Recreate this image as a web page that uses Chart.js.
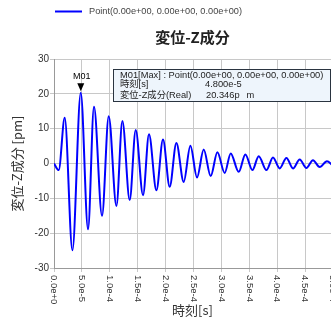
<!DOCTYPE html>
<html><head><meta charset="utf-8">
<script src="https://cdn.jsdelivr.net/npm/chart.js@4/dist/chart.umd.min.js"></script>
<style>html,body{margin:0;padding:0;background:#fff;overflow:hidden}#wrap{position:relative;width:331px;height:326px}</style>
</head><body><div id="wrap"><canvas id="c" width="331" height="326"></canvas></div>
<script>
const seriesName = "Point(0.00e+00, 0.00e+00, 0.00e+00)";
const times = [0, 8.4e-6, 1.92e-5, 3.30e-5, 4.80e-5, 6.10e-5, 7.17e-5, 8.61e-5, 9.81e-5, 1.119e-4,
  1.226e-4, 1.357e-4, 1.465e-4, 1.596e-4, 1.703e-4, 1.836e-4, 1.954e-4, 2.074e-4, 2.194e-4, 2.325e-4,
  2.445e-4, 2.564e-4, 2.684e-4, 2.809e-4, 2.929e-4, 3.060e-4, 3.168e-4, 3.311e-4, 3.431e-4, 3.557e-4,
  3.670e-4, 3.808e-4, 3.926e-4, 4.046e-4, 4.167e-4, 4.285e-4, 4.405e-4, 4.525e-4, 4.643e-4, 4.763e-4,
  4.894e-4, 5.020e-4];
const values = [0, -1.9, 13.1, -24.9, 20.346, -18.9, 16.3, -15.0, 13.6, -12.2,
  12.2, -10.5, 9.6, -9.1, 8.4, -7.7, 6.9, -6.7, 5.9, -5.3,
  5.1, -4.0, 4.0, -3.6, 3.2, -2.7, 2.9, -2.4, 2.6, -1.9,
  2.1, -1.9, 1.7, -1.4, 1.6, -1.4, 1.15, -1.3, 0.95, -1.0,
  0.65, -0.9];
const xTicks = [0, 5e-5, 1e-4, 1.5e-4, 2e-4, 2.5e-4, 3e-4, 3.5e-4, 4e-4, 4.5e-4, 5e-4];
const yTicks = [-30, -20, -10, 0, 10, 20, 30];
const markerLabel = "M01";
const markerTime = 4.8e-5;
const markerValue = 20.346;

const LAT = '"Liberation Sans", Arial, "Noto Sans CJK JP", sans-serif';
const CJK = '"Noto Sans CJK JP", "Liberation Sans", sans-serif';

const overlay = {
  id: 'overlay',
  afterDatasetsDraw(chart) {
    const ctx = chart.ctx, xs = chart.scales.x, ys = chart.scales.y, ca = chart.chartArea;
    // legend
    ctx.save();
    ctx.strokeStyle = '#0000ff'; ctx.lineWidth = 2;
    ctx.beginPath(); ctx.moveTo(55, 11.5); ctx.lineTo(82, 11.5); ctx.stroke();
    ctx.fillStyle = '#444'; ctx.font = '9.2px ' + LAT; ctx.textBaseline = 'middle'; ctx.textAlign = 'left';
    ctx.fillText(seriesName, 89, 11.5);
    // x tick labels rotated clockwise
    ctx.fillStyle = '#333'; ctx.font = '9.5px ' + LAT;
    xTicks.forEach(v => {
      const px = xs.getPixelForValue(v);
      ctx.save(); ctx.translate(px, xs.top + 7); ctx.rotate(Math.PI / 2);
      ctx.textAlign = 'left'; ctx.textBaseline = 'middle';
      ctx.fillText(v.toExponential(1), 0, 0);
      ctx.restore();
    });
    // marker
    const px = xs.getPixelForValue(markerTime), py = ys.getPixelForValue(markerValue);
    ctx.fillStyle = '#000';
    ctx.beginPath(); ctx.moveTo(px - 3.5, py - 9.5); ctx.lineTo(px + 3.5, py - 9.5); ctx.lineTo(px, py - 1.5); ctx.closePath(); ctx.fill();
    ctx.font = '9px ' + LAT; ctx.textAlign = 'center'; ctx.textBaseline = 'middle';
    ctx.fillText(markerLabel, px + 1, py - 16.5);
    // annotation box
    const bx = ca.left + 59.5, by = ca.top + 10.5, bw = 217, bh = 32;
    ctx.fillStyle = '#eef5fc'; ctx.fillRect(bx, by, bw, bh);
    ctx.strokeStyle = '#2a3440'; ctx.lineWidth = 1; ctx.strokeRect(bx, by, bw, bh);
    ctx.fillStyle = '#222'; ctx.font = '9.3px ' + LAT; ctx.textAlign = 'left'; ctx.textBaseline = 'middle';
    ctx.fillText(markerLabel + '[Max] : ' + seriesName, bx + 6.5, by + 5.5);
    ctx.fillText('時刻[s]', bx + 6.5, by + 15);
    ctx.fillText(markerTime.toExponential(3), bx + 91.5, by + 15);
    ctx.fillText('変位-Z成分(Real)', bx + 6.5, by + 25.5);
    ctx.fillText(markerValue.toFixed(3) + 'p', bx + 92.5, by + 25.5);
    ctx.fillText('m', bx + 133, by + 25.5);
    ctx.restore();
  }
};

const pts = times.map((t, i) => ({ x: t, y: values[i] }));
new Chart(document.getElementById('c'), {
  type: 'line',
  data: { datasets: [{ label: seriesName, data: pts, borderColor: '#0000ff', borderWidth: 2,
    pointRadius: 0, cubicInterpolationMode: 'monotone', fill: false }] },
  options: {
    responsive: false, animation: false, devicePixelRatio: 1,
    layout: { padding: { top: 20, left: 0, right: 0, bottom: 0 } },
    plugins: {
      legend: { display: false }, tooltip: { enabled: false },
      title: { display: true, fullSize: false, text: '変位-Z成分', color: '#222',
        font: { family: CJK, size: 15, weight: 'bold' }, padding: { top: 8, bottom: 13 } }
    },
    scales: {
      x: { type: 'linear', min: 0, max: 4.966e-4,
        afterBuildTicks: s => { s.ticks = xTicks.filter(v => v <= s.max).map(v => ({ value: v })); },
        ticks: { display: false },
        grid: { color: '#c8c8c8', tickLength: 4 }, border: { color: '#999' },
        title: { display: true, text: '時刻[s]', color: '#333', font: { family: CJK, size: 13 }, padding: { top: 0, bottom: 8 } },
        afterFit: s => { s.height = 58; } },
      y: { min: -30, max: 30,
        afterBuildTicks: s => { s.ticks = yTicks.map(v => ({ value: v })); },
        ticks: { color: '#333', font: { family: LAT, size: 10 }, padding: 1 },
        grid: { color: '#c8c8c8', tickLength: 4 }, border: { color: '#999' },
        title: { display: true, text: '変位-Z成分 [pm]', color: '#333', font: { family: CJK, size: 13 }, padding: { top: 9, bottom: 0 } },
        afterFit: s => { s.width = 54; } }
    }
  },
  plugins: [overlay]
});
</script></body></html>
